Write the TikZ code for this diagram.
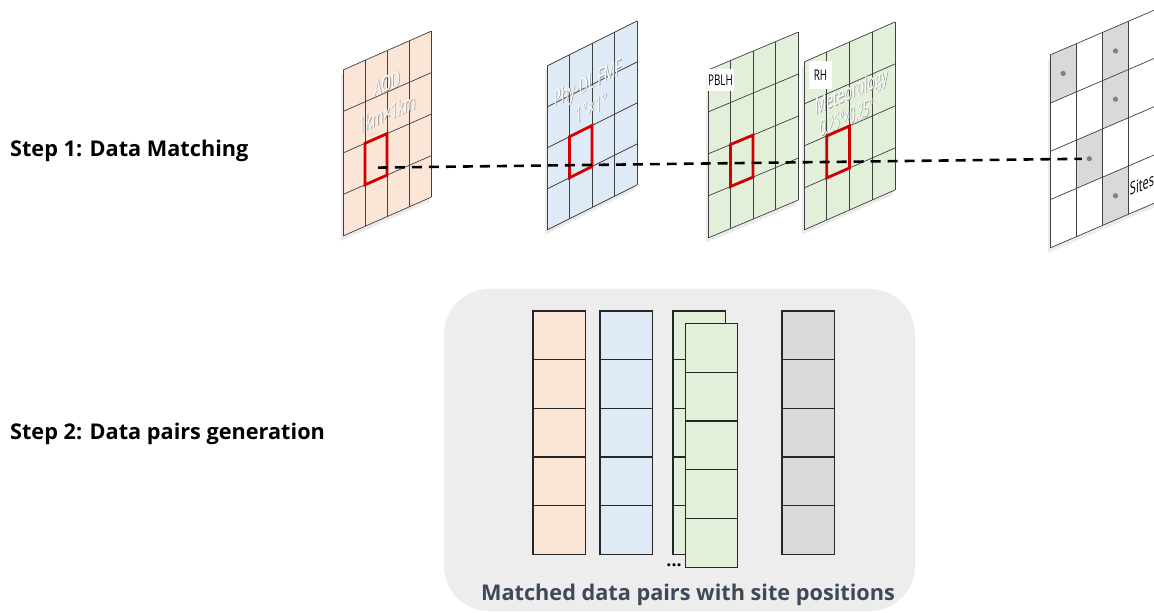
\documentclass[tikz,border=0pt]{standalone}
\usepackage{fontspec}
\setmainfont{Open Sans}

\definecolor{peach}{HTML}{FBE5D6}
\definecolor{skyblue}{HTML}{DEEBF7}
\definecolor{mint}{HTML}{E2F0D9}
\definecolor{ash}{HTML}{D9D9D9}
\definecolor{boxgray}{HTML}{EDEDED}
\definecolor{hitred}{HTML}{D00000}
\definecolor{slate}{HTML}{3E4858}

\tikzset{
  gridline/.style={draw=black!75, line width=0.6pt},
  hitcell/.style={draw=hitred, line width=2.4pt},
  panelshadow/.style={fill=black, opacity=0.08},
  glow/.style={text=white, font=\fontsize{12}{12}\selectfont, inner sep=0pt, xscale=0.88, yscale=1.55, transform shape},
  glowshade/.style={glow, text=black!40},
  tagbox/.style={fill=white, inner sep=1pt, minimum width=0.72cm, minimum height=0.56cm,
    font=\fontsize{10.5}{10.5}\selectfont, xscale=0.8, yscale=1.2},
  sitedot/.style={circle, fill=black!50, inner sep=0pt, minimum size=4.5pt},
  matchline/.style={dashed, dash pattern=on 8.5pt off 6pt, line width=2.2pt},
  cell/.style={draw=black!85, line width=0.9pt},
  steplabel/.style={anchor=west, font=\fontsize{18.5}{18.5}\selectfont\bfseries},
  captionlabel/.style={text=slate, font=\fontsize{18.5}{18.5}\selectfont\bfseries}
}

\begin{document}
\begin{tikzpicture}[x=0.03cm, y=0.03cm]
  \useasboundingbox (0,0) rectangle (1154,612);

  % step 1: the gridded inputs
  \begin{scope}[shift={(343,376)}, yslant=0.44]
    \fill[panelshadow] (-2,-4) rectangle ++(88,166);
    \fill[peach] (0,0) rectangle (88,166);
    \foreach \i in {0,...,4} \draw[gridline] (\i*22,0) -- (\i*22,166);
    \foreach \j in {0,...,4} \draw[gridline] (0,\j*41.5) -- (88,\j*41.5);
    \draw[hitcell] (22,41.5) rectangle (44,83);
    \node[glowshade] at (44.8,132.3) {AOD};
    \node[glow] (aod) at (44,133) {AOD};
    \node[glowshade] at (44.8,102.8) {1km×1km};
    \node[glow] (aodres) at (44,103.5) {1km×1km};
    \coordinate (aodcell) at (35,53);
  \end{scope}

  \begin{scope}[shift={(547,382)}, yslant=0.5]
    \fill[panelshadow] (-2,-4) rectangle ++(90,164);
    \fill[skyblue] (0,0) rectangle (90,164);
    \foreach \i in {0,...,4} \draw[gridline] (\i*22.5,0) -- (\i*22.5,164);
    \foreach \j in {0,...,4} \draw[gridline] (0,\j*41) -- (90,\j*41);
    \draw[hitcell] (22.5,41) rectangle (45,82);
    \node[glowshade] at (41.3,124) {Phy-DL FMF};
    \node[glow] (fmf) at (40.5,124.7) {Phy-DL FMF};
    \node[glowshade] at (44.8,99.3) {1°×1°};
    \node[glow] (fmfres) at (44,100) {1°×1°};
  \end{scope}

  \begin{scope}[shift={(708,374)}, yslant=0.42]
    \fill[panelshadow] (-2,-4) rectangle ++(90,168);
    \fill[mint] (0,0) rectangle (90,168);
    \foreach \i in {0,...,4} \draw[gridline] (\i*22.5,0) -- (\i*22.5,168);
    \foreach \j in {0,...,4} \draw[gridline] (0,\j*42) -- (90,\j*42);
    \draw[hitcell] (22.5,42) rectangle (45,84);
  \end{scope}
  \node[tagbox] (pblh) at (720.5,532) {PBLH};

  \begin{scope}[shift={(804,382)}, yslant=0.44]
    \fill[panelshadow] (-2,-4) rectangle ++(91,168);
    \fill[mint] (0,0) rectangle (91,168);
    \foreach \i in {0,...,4} \draw[gridline] (\i*22.75,0) -- (\i*22.75,168);
    \foreach \j in {0,...,4} \draw[gridline] (0,\j*42) -- (91,\j*42);
    \draw[hitcell] (22.75,42) rectangle (45.5,84);
    \node[glowshade] at (48.3,115.3) {Meteorology};
    \node[glow] (met) at (47.5,116) {Meteorology};
    \node[glowshade, xscale=0.8] at (43.3,93.3) {0.25°×0.25°};
    \node[glow, xscale=0.8] (metres) at (42.5,94) {0.25°×0.25°};
  \end{scope}
  \node[tagbox, minimum width=0.85cm, minimum height=0.7cm] (rh) at (820.5,537) {RH};

  \begin{scope}[shift={(1050,364)}, yslant=0.43]
    \fill[panelshadow] (-2,-4) rectangle ++(106,193);
    \fill[white] (0,0) rectangle (104.8,193);
    \foreach \c/\r in {0/3,2/3,2/2,1/1,2/0}
      \fill[ash] (\c*26.2,\r*48.25) rectangle ++(26.2,48.25);
    \foreach \i in {0,...,4} \draw[gridline] (\i*26.2,0) -- (\i*26.2,193);
    \foreach \j in {0,...,4} \draw[gridline] (0,\j*48.25) -- (104.8,\j*48.25);
    \node[sitedot] (site1) at (13.1,168.9) {};
    \node[sitedot] (site2) at (65.5,168.9) {};
    \node[sitedot] (site3) at (65.5,120.6) {};
    \node[sitedot] (site4) at (39.3,72.4) {};
    \node[sitedot] (site5) at (65.5,24.1) {};
    \node[font=\fontsize{12}{12}\selectfont, xscale=0.78, yscale=1.25, transform shape, inner sep=0pt]
      (sites) at (92,24) {Sites};
  \end{scope}

  \draw[matchline, shorten >=4pt] (aodcell) -- (site4);

  % step 2: the matched pairs
  \fill[boxgray, rounded corners=1.35cm] (444,1) rectangle (915,323);
  \foreach \x/\c in {533/peach,600/skyblue,673/mint,782/ash} {
    \draw[cell, fill=\c] (\x,57.7) rectangle ++(52.5,243.3);
    \foreach \i in {1,...,4} \draw[cell] (\x,57.7+48.66*\i) -- ++(52.5,0);
  }
  \draw[cell, fill=mint] (685.7,44.3) rectangle ++(52,244.5);
  \foreach \i in {1,...,4} \draw[cell] (685.7,44.3+48.9*\i) -- ++(52,0);
  \node[anchor=base, font=\fontsize{15}{15}\selectfont\bfseries, inner sep=0pt] (more) at (674,46) {...};

  \node[steplabel] (step1) at (6,461) {Step 1: Data Matching};
  \node[steplabel] (step2) at (6,178) {Step 2: Data pairs generation};
  \node[captionlabel] (caption) at (688,17) {Matched data pairs with site positions};
\end{tikzpicture}
\end{document}
